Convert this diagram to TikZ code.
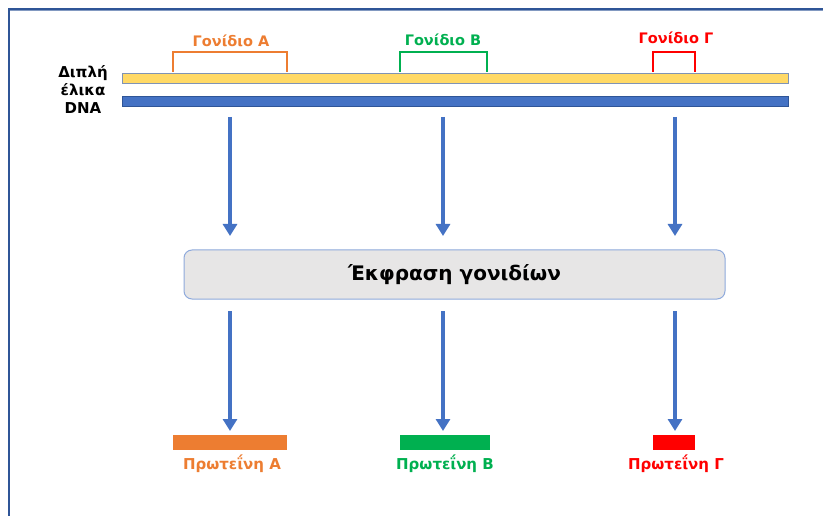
\documentclass[tikz,border=0pt]{standalone}
\usepackage{fontspec}
\setmainfont{DejaVu Sans}
\usetikzlibrary{arrows.meta}
\definecolor{frameblue}{HTML}{2F5597}
\definecolor{arrowblue}{HTML}{4472C4}
\definecolor{strandyellow}{HTML}{FFD966}
\definecolor{strandedge}{HTML}{7F93B5}
\definecolor{geneorange}{HTML}{ED7D31}
\definecolor{genegreen}{HTML}{00B050}
\definecolor{genered}{HTML}{FF0000}
\definecolor{boxfill}{HTML}{E7E6E6}
\definecolor{boxedge}{HTML}{8FAADC}
\tikzset{
  strand/.style={draw, line width=1pt, minimum height=10pt, minimum width=666pt, inner sep=0pt},
  genelabel/.style={font=\bfseries\fontsize{14.5}{17}\selectfont},
  bracketline/.style={line width=2.2pt},
  flow/.style={draw=arrowblue, line width=3.6pt, -{Triangle[width=14pt,length=12pt]}},
  protein/.style={minimum height=15pt, inner sep=0pt},
  proteinlabel/.style={font=\bfseries\fontsize{15}{17}\selectfont},
}
\begin{document}
\begin{tikzpicture}[x=1pt,y=-1pt]
\useasboundingbox (0,0) rectangle (823,516);
\fill[white] (0,0) rectangle (823,516);
% outer frame
\draw[frameblue!60, line width=1pt] (9,11) -- (823,11);
\draw[frameblue, line width=2.6pt] (9,516) -- (9,9) -- (823,9);

% DNA double helix
\node[strand, draw=strandedge, fill=strandyellow] (s1) at (455,79) {};
\node[strand, draw=frameblue, fill=arrowblue] (s2) at (455,102) {};
\node[align=center, font=\bfseries\fontsize{15}{18}\selectfont] (dna) at (83,90)
  {Διπλή\\έλικα\\DNA};

% genes
\node[genelabel, text=geneorange] (gA) at (231,41) {Γονίδιο Α};
\node[genelabel, text=genegreen] (gB) at (443,40) {Γονίδιο Β};
\node[genelabel, text=genered] (gC) at (676,38) {Γονίδιο Γ};
\draw[bracketline, geneorange] (173,72) -- (173,52) -- (287,52) -- (287,72);
\draw[bracketline, genegreen] (400,72) -- (400,52) -- (487,52) -- (487,72);
\draw[bracketline, genered] (653,72) -- (653,52) -- (695,52) -- (695,72);

% gene expression box
\node[draw=boxedge, fill=boxfill, line width=1pt, rounded corners=8pt,
      minimum width=541pt, minimum height=49pt,
      font=\bfseries\fontsize{20}{24}\selectfont] (expr) at (454.5,274.5) {Έκφραση γονιδίων};

% proteins
\node[protein, fill=geneorange, minimum width=114pt] (pA) at (230,442.5) {};
\node[protein, fill=genegreen, minimum width=90pt] (pB) at (445,442.5) {};
\node[protein, fill=genered, minimum width=42pt] (pC) at (674,442.5) {};
\node[proteinlabel, text=geneorange] (lA) at (232,464) {Πρωτεΐνη Α};
\node[proteinlabel, text=genegreen] (lB) at (445,464) {Πρωτεΐνη Β};
\node[proteinlabel, text=genered] (lC) at (676,464) {Πρωτεΐνη Γ};

% arrow anchors
\coordinate (t1) at (230,117);
\coordinate (t2) at (443,117);
\coordinate (t3) at (675,117);
\coordinate (m1) at (230,236);
\coordinate (m2) at (443,236);
\coordinate (m3) at (675,236);
\coordinate (b1) at (230,311);
\coordinate (b2) at (443,311);
\coordinate (b3) at (675,311);
\coordinate (e1) at (230,431);
\coordinate (e2) at (443,431);
\coordinate (e3) at (675,431);

\draw[flow] (t1) -- (m1);
\draw[flow] (t2) -- (m2);
\draw[flow] (t3) -- (m3);
\draw[flow] (b1) -- (e1);
\draw[flow] (b2) -- (e2);
\draw[flow] (b3) -- (e3);
\end{tikzpicture}
\end{document}
